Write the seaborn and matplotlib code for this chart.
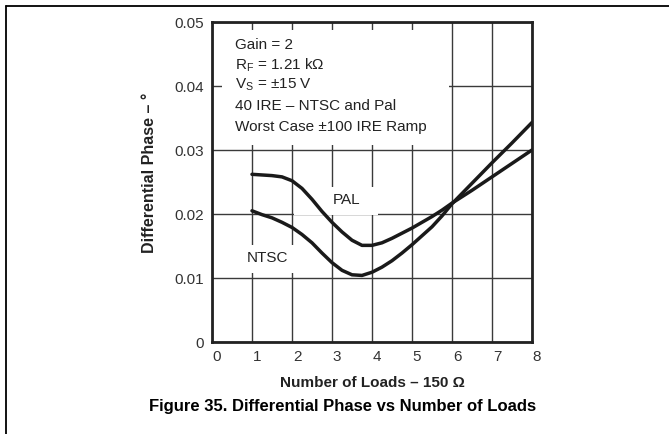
import numpy as np
import pandas as pd
import seaborn as sns
import matplotlib.pyplot as plt
from matplotlib.patches import Rectangle
from matplotlib.lines import Line2D
from matplotlib.transforms import ScaledTranslation

sns.set_theme(style="white")
plt.rcParams["font.family"] = ["Liberation Sans", "DejaVu Sans"]
plt.rcParams["mathtext.fontset"] = "custom"
plt.rcParams["mathtext.rm"] = "Liberation Sans"
plt.rcParams["mathtext.it"] = "Liberation Sans:italic"

# data
loads = [1.0, 1.25, 1.5, 1.75, 2.0, 2.25, 2.5, 2.75, 3.0, 3.25, 3.5, 3.75, 4.0,
         4.25, 4.5, 4.75, 5.0, 5.25, 5.5, 5.75, 6.0, 6.5, 7.0, 7.5, 8.0]
pal = [0.0262, 0.0261, 0.0260, 0.0258, 0.0252, 0.0240, 0.0223, 0.0204, 0.0187,
       0.0172, 0.0159, 0.0151, 0.0151, 0.0155, 0.0162, 0.0170, 0.0178, 0.0187,
       0.0196, 0.0206, 0.0217, 0.0237, 0.0258, 0.0279, 0.0300]
ntsc = [0.0205, 0.0199, 0.0194, 0.0187, 0.0179, 0.0168, 0.0155, 0.0139, 0.0124,
        0.0112, 0.0105, 0.0104, 0.0109, 0.0117, 0.0127, 0.0139, 0.0152, 0.0166,
        0.0180, 0.0197, 0.0216, 0.0248, 0.0280, 0.0311, 0.0343]
x_ticks = [0, 1, 2, 3, 4, 5, 6, 7, 8]
y_ticks = [0, 0.01, 0.02, 0.03, 0.04, 0.05]
y_labels = ["0", "0.01", "0.02", "0.03", "0.04", "0.05"]
notes = ["Gain = 2", r"R$_{\mathrm{F}}$ = 1.21 k$\Omega$", r"V$_{\mathrm{S}}$ = $\pm$15 V",
         "40 IRE \u2013 NTSC and Pal", "Worst Case \u00b1100 IRE Ramp"]

df = pd.DataFrame({
    "loads": loads * 2,
    "phase": pal + ntsc,
    "std": ["PAL"] * len(pal) + ["NTSC"] * len(ntsc),
})

fig = plt.figure(figsize=(6.69, 4.34), dpi=100)
ax = fig.add_axes([212 / 669, 92 / 434, 320 / 669, 320 / 434])

sns.lineplot(data=df, x="loads", y="phase", hue="std",
             palette={"PAL": "#1a1a1a", "NTSC": "#1a1a1a"},
             linewidth=2.5, legend=False, ax=ax, zorder=3)

ax.set_xlim(0, 8)
ax.set_ylim(0, 0.05)
ax.set_xticks(x_ticks)
ax.set_xticklabels([str(t) for t in x_ticks])
ax.set_yticks(y_ticks)
ax.set_yticklabels(y_labels)
ax.tick_params(length=0, labelsize=11, colors="#333333", pad=6)
for lab in ax.get_xticklabels():
    lab.set_transform(lab.get_transform() + ScaledTranslation(0.05, 0, fig.dpi_scale_trans))

ax.set_axisbelow(True)
ax.grid(True, color="#3a3a3a", linewidth=1.0)
for sp in ax.spines.values():
    sp.set_linewidth(2)
    sp.set_color("#222222")

# white boxes behind the labels
ax.add_patch(Rectangle((0.25, 0.0308), 5.68, 0.0180, facecolor="white", edgecolor="none", zorder=1))
ax.add_patch(Rectangle((2.05, 0.0199), 2.10, 0.0043, facecolor="white", edgecolor="none", zorder=1))
ax.add_patch(Rectangle((0.85, 0.0108), 1.30, 0.0044, facecolor="white", edgecolor="none", zorder=1))

note_y = [0.0464, 0.0433, 0.0402, 0.0369, 0.0336]
for txt, yy in zip(notes, note_y):
    ax.text(0.575, yy, txt, fontsize=11, color="#222222", va="center", ha="left", zorder=4)

ax.text(3.37, 0.0222, "PAL", fontsize=11, color="#222222", ha="center", va="center", zorder=4)
ax.text(1.4, 0.0131, "NTSC", fontsize=11, color="#222222", ha="center", va="center", zorder=4)

ax.set_xlabel("Number of Loads \u2013 150 \u03a9", fontsize=11, fontweight="bold", color="#222222")
ax.xaxis.set_label_coords(0.5, -0.105)
ax.set_ylabel("Differential Phase \u2013 \u00b0", fontsize=11.5, fontweight="bold", color="#222222")
ax.yaxis.set_label_coords(-0.172, 0.53)

fig.text(343 / 669, 1 - 406 / 434, "Figure 35. Differential Phase vs Number of Loads",
         fontsize=12, fontweight="bold", ha="center", va="center", color="black")

# page frame lines
fig.add_artist(Line2D([5.5 / 669, 1], [1 - 6 / 434, 1 - 6 / 434], transform=fig.transFigure, color="black", lw=1.3))
fig.add_artist(Line2D([5.5 / 669, 5.5 / 669], [0, 1 - 6 / 434], transform=fig.transFigure, color="black", lw=1.3))

fig.savefig("out.png", dpi=100)
